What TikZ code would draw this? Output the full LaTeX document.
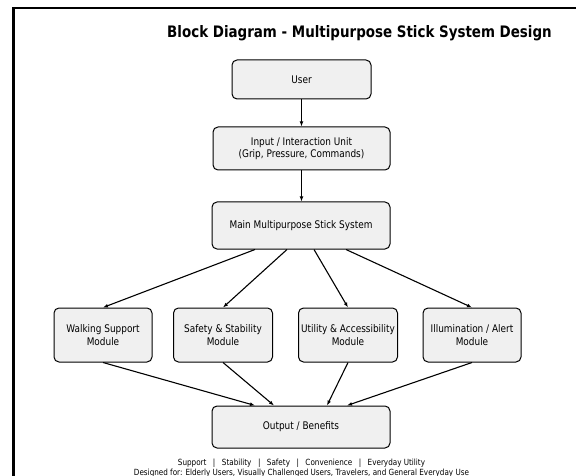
\documentclass[tikz,border=0pt]{standalone}
\usepackage{fontspec}
\setmainfont{DejaVu Sans}[FakeStretch=0.85]
\usetikzlibrary{arrows.meta,calc}
\definecolor{boxfill}{HTML}{F0F0F0}
\tikzset{
  blk/.style={draw=black, line width=1pt, fill=boxfill, rounded corners=5pt,
    align=center, inner sep=0pt, font=\fontsize{10.5}{12.6}\selectfont},
  conn/.style={line width=1.1pt, -{Latex[length=5pt,width=3.8pt]}},
  foot/.style={inner sep=0pt, font=\fontsize{8.5}{10}\selectfont}
}
\begin{document}
\begin{tikzpicture}[x=1pt,y=-1pt]
\clip (0,0) rectangle (576,476);
\fill[white] (0,0) rectangle (576,476);
\draw[line width=2.3pt] (13.5,8) rectangle (620,520);
\node[inner sep=0pt, font=\bfseries\fontsize{15.8}{18}\selectfont] (title) at (359.5,33) {Block Diagram - Multipurpose Stick System Design};
\node[blk, minimum width=139pt, minimum height=39pt] (user) at (301.5,79.5) {User};
\node[blk, minimum width=177pt, minimum height=43pt] (inp) at (301.5,148.5) {Input / Interaction Unit\\(Grip, Pressure, Commands)};
\node[blk, minimum width=178pt, minimum height=47pt] (main) at (301,225.5) {Main Multipurpose Stick System};
\node[blk, minimum width=98pt, minimum height=54pt] (walk) at (103,335) {Walking Support\\Module};
\node[blk, minimum width=99pt, minimum height=54pt] (safe) at (223,335) {Safety \& Stability\\Module};
\node[blk, minimum width=99pt, minimum height=54pt] (util) at (348,335) {Utility \& Accessibility\\Module};
\node[blk, minimum width=98pt, minimum height=54pt] (illu) at (472,335) {Illumination / Alert\\Module};
\node[blk, minimum width=178pt, minimum height=42pt] (out) at (301,427) {Output / Benefits};
\node[foot] (f1) at (301.5,463) {Support\hspace{6.5pt}|\hspace{6.5pt}Stability\hspace{6.5pt}|\hspace{6.5pt}Safety\hspace{6.5pt}|\hspace{6.5pt}Convenience\hspace{6.5pt}|\hspace{6.5pt}Everyday Utility};
\node[foot] (f2) at (301.5,473) {Designed for: Elderly Users, Visually Challenged Users, Travelers, and General Everyday Use};
\coordinate (m1) at ($(main.south)+(-46,0)$);
\coordinate (m2) at ($(main.south)+(-14,0)$);
\coordinate (m3) at ($(main.south)+(13,0)$);
\coordinate (m4) at ($(main.south)+(45,0)$);
\coordinate (o1) at ($(out.north)+(-46,0)$);
\coordinate (o2) at ($(out.north)+(-27,0)$);
\coordinate (o3) at ($(out.north)+(26,0)$);
\coordinate (o4) at ($(out.north)+(46,0)$);
\draw[conn] (user.south) -- (user.south |- inp.north);
\draw[conn] (inp.south) -- (inp.south |- main.north);
\draw[conn] (m1) -- (walk.north);
\draw[conn] (m2) -- (safe.north);
\draw[conn] (m3) -- (util.north);
\draw[conn] (m4) -- (illu.north);
\draw[conn] (walk.south) -- (o1);
\draw[conn] (safe.south) -- (o2);
\draw[conn] (util.south) -- (o3);
\draw[conn] (illu.south) -- (o4);
\end{tikzpicture}
\end{document}
